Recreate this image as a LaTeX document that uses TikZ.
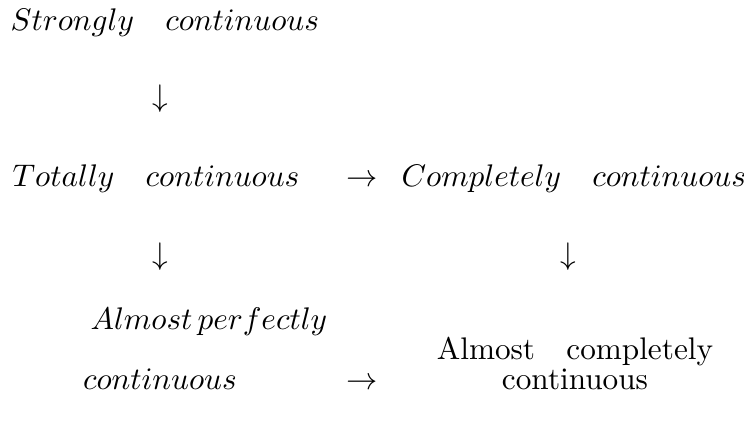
\documentclass[tikz,border=0pt]{standalone}
\begin{document}
\begin{tikzpicture}[x=0.32pt,y=-0.32pt,
  lbl/.style={inner sep=0pt, anchor=base west},
  sym/.style={inner sep=0pt, anchor=base}]
\useasboundingbox (0,0) rectangle (744,428);
\node[lbl] (sc) at (10,31) {$Strongly\quad continuous$};
\node[sym] (d1) at (160,107) {$\downarrow$};
\node[lbl] (tc) at (12,187) {$Totally\quad continuous$};
\node[sym] (r1) at (362,187) {$\rightarrow$};
\node[lbl] (cc) at (401,187) {$Completely\quad continuous$};
\node[sym] (d2) at (160,265) {$\downarrow$};
\node[sym] (d3) at (568,265) {$\downarrow$};
\node[lbl] (ap) at (90,330) {$Almost\,perfectly$};
\node[sym] (apc) at (160,390) {$continuous$};
\node[sym] (r2) at (362,390) {$\rightarrow$};
\node[sym] (ac) at (575,360) {Almost\quad completely};
\node[sym] (acc) at (575,390) {continuous};
\end{tikzpicture}
\end{document}
